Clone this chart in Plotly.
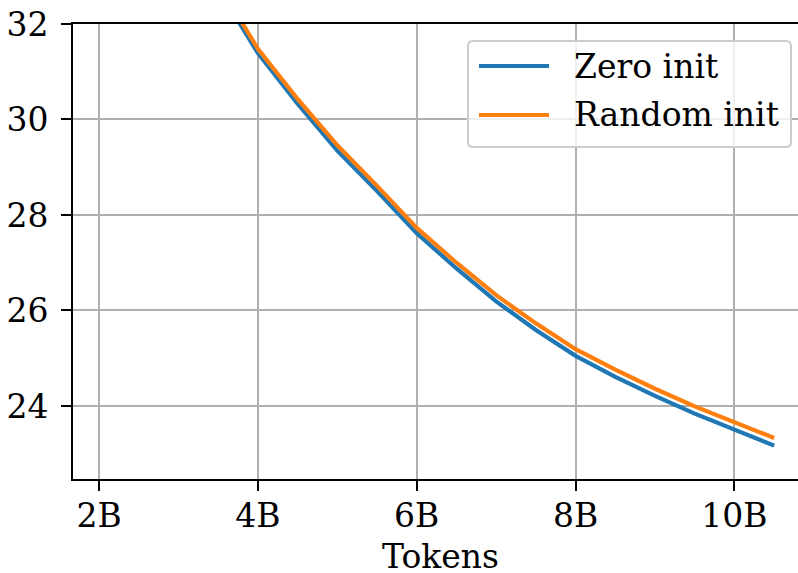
import plotly.graph_objects as go

# Data
tokens_b = [3.5, 4.0, 4.5, 5.0, 5.5, 6.0, 6.5, 7.0, 7.5, 8.0, 8.5, 9.0, 9.5, 10.0, 10.5]
zero_init = [32.75, 31.39, 30.33, 29.35, 28.50, 27.62, 26.88, 26.19, 25.59, 25.05,
             24.61, 24.21, 23.84, 23.50, 23.17]
random_init = [32.85, 31.48, 30.43, 29.46, 28.61, 27.73, 27.00, 26.32, 25.73, 25.19,
               24.76, 24.36, 23.99, 23.65, 23.33]
series_names = ["Zero init", "Random init"]
series_colors = ["#1f77b4", "#ff7f0e"]
x_tickvals = [2, 4, 6, 8, 10]
x_ticktext = ["2B", "4B", "6B", "8B", "10B"]
y_tickvals = [24, 26, 28, 30, 32]
x_title = "Tokens"

W, H = 798, 573
L, R, T, B = 73, 0, 24, 94
FONT = "DejaVu Serif"
FS = 33

fig = go.Figure()
for name, ys, col in zip(series_names, [zero_init, random_init], series_colors):
    fig.add_trace(go.Scatter(x=tokens_b, y=ys, mode="lines", name=name,
                             line=dict(color=col, width=4.2), showlegend=False))

axis_common = dict(
    showline=True, linecolor="black", linewidth=2,
    ticks="outside", ticklen=10, tickwidth=2, tickcolor="black",
    showgrid=True, gridcolor="#b0b0b0", gridwidth=2,
    zeroline=False, automargin=False,
    tickfont=dict(family=FONT, size=FS, color="black"),
)

fig.update_xaxes(range=[1.6725, 10.80], tickvals=x_tickvals, ticktext=x_ticktext,
                 mirror=True, ticklabelstandoff=-4, **axis_common)
fig.update_yaxes(range=[22.47, 32], tickvals=y_tickvals, ticklabelstandoff=6,
                 **axis_common)

# Manual legend (matplotlib style)
pw, ph = W - L - R, H - T - B
def px(xp):
    return (xp - L) / pw
def py(yp):
    return (H - B - yp) / ph

x0, x1, y0, y1 = px(468), px(791), py(147), py(41)
rx, ry = 5 / pw, 5 / ph
path = (f"M {x0+rx},{y0} L {x1-rx},{y0} Q {x1},{y0} {x1},{y0+ry} "
        f"L {x1},{y1-ry} Q {x1},{y1} {x1-rx},{y1} L {x0+rx},{y1} "
        f"Q {x0},{y1} {x0},{y1-ry} L {x0},{y0+ry} Q {x0},{y0} {x0+rx},{y0} Z")
shapes = [dict(type="path", path=path, xref="paper", yref="paper",
               fillcolor="rgba(255,255,255,0.8)", line=dict(color="#cccccc", width=2),
               layer="above")]
annotations = []
rows_y = [66, 115]
for name, col, ry_px in zip(series_names, series_colors, rows_y):
    shapes.append(dict(type="line", xref="paper", yref="paper",
                       x0=px(479), x1=px(549), y0=py(ry_px), y1=py(ry_px),
                       line=dict(color=col, width=4.2), layer="above"))
    annotations.append(dict(text=name, xref="paper", yref="paper",
                            x=px(572), y=py(ry_px), xanchor="left", yanchor="middle",
                            showarrow=False,
                            font=dict(family=FONT, size=FS, color="black")))

# x-axis title
annotations.append(dict(text=x_title, xref="paper", yref="paper",
                        x=px(440), y=py(556), xanchor="center", yanchor="middle",
                        showarrow=False,
                        font=dict(family=FONT, size=FS, color="black")))

fig.update_layout(width=W, height=H, margin=dict(l=L, r=R, t=T, b=B),
                  paper_bgcolor="white", plot_bgcolor="white",
                  font=dict(family=FONT, size=FS, color="black"),
                  shapes=shapes, annotations=annotations)

fig.write_html("out.html", config={"displayModeBar": False},
               post_script="document.body.style.margin='0';document.body.style.padding='0';")
